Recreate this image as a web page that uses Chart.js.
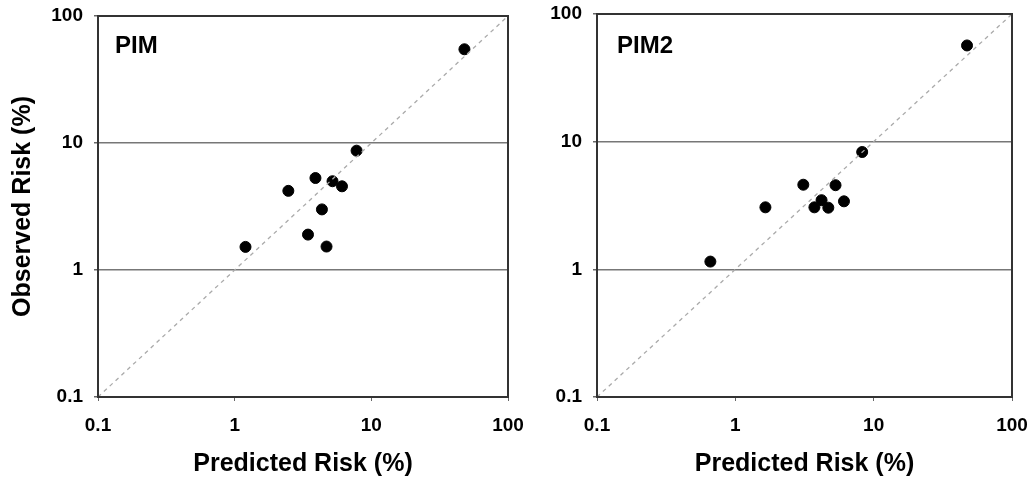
<!DOCTYPE html>
<html>
<head>
<meta charset="utf-8">
<script src="https://cdn.jsdelivr.net/npm/chart.js@4.4.1/dist/chart.umd.min.js"></script>
<style>
  body { margin: 0; background: #fff; }
  #wrap { position: relative; width: 1032px; height: 479px; }
  .box { position: absolute; top: 0; height: 479px; }
</style>
</head>
<body>
<div id="wrap">
  <div class="box" style="left:0; width:530px;"><canvas id="pim"></canvas></div>
  <div class="box" style="left:530px; width:502px;"><canvas id="pim2"></canvas></div>
</div>
<script>
// decade ticks for both axes
const tickValues = [0.1, 1, 10, 100];
const identityLine = [0.1, 100];

// PIM: predicted vs observed risk (%)
const pimPredicted = [48, 7.8, 3.9, 5.2, 6.1, 2.47, 4.35, 3.44, 4.7, 1.2];
const pimObserved  = [54.7, 8.7, 5.3, 5.0, 4.56, 4.2, 3.0, 1.9, 1.53, 1.52];

// PIM2
const pim2Predicted = [47.3, 8.26, 3.1, 5.3, 6.1, 4.2, 3.73, 4.7, 1.65, 0.66];
const pim2Observed  = [56.7, 8.3, 4.6, 4.56, 3.41, 3.48, 3.06, 3.04, 3.06, 1.15];

const FONT = "'Liberation Sans', Arial, sans-serif";

// frame round the plot area + panel name in the corner
const framePlugin = {
    id: 'frame',
    afterDraw(chart, args, opts) {
        const { ctx, chartArea: a } = chart;
        ctx.save();
        ctx.strokeStyle = '#333';
        ctx.lineWidth = 2;
        ctx.strokeRect(a.left, a.top, a.right - a.left, a.bottom - a.top);
        ctx.fillStyle = '#000';
        ctx.font = 'bold 24px ' + FONT;
        ctx.textBaseline = 'alphabetic';
        ctx.fillText(opts.label, a.left + opts.dx, 53);
        ctx.restore();
    }
};

function buildChart(id, xs, ys, cfg) {
    const points = xs.map((x, i) => ({ x: x, y: ys[i] }));
    const diag = identityLine.map(v => ({ x: v, y: v }));
    const setTicks = scale => { scale.ticks = tickValues.map(v => ({ value: v })); };

    return new Chart(document.getElementById(id), {
        type: 'scatter',
        data: {
            datasets: [{
                type: 'line',
                data: diag,
                borderColor: '#aaa',
                borderWidth: 1.3,
                borderDash: [4, 4],
                pointRadius: 0,
                fill: false
            }, {
                data: points,
                backgroundColor: '#000',
                borderColor: '#000',
                pointRadius: 5.5,
                pointHoverRadius: 5.5
            }]
        },
        options: {
            responsive: true,
            maintainAspectRatio: false,
            animation: false,
            layout: { padding: { top: cfg.top, right: cfg.right, left: 0, bottom: 0 } },
            plugins: {
                legend: { display: false },
                tooltip: { enabled: false },
                frame: { label: cfg.label, dx: cfg.dx }
            },
            scales: {
                x: {
                    type: 'logarithmic',
                    min: 0.1,
                    max: 100,
                    afterBuildTicks: setTicks,
                    afterFit: s => { s.height = 82; s.paddingLeft = 0; s.paddingRight = 0; },
                    border: { display: false },
                    grid: { drawOnChartArea: false, drawTicks: true, tickLength: 4, tickColor: '#666' },
                    ticks: {
                        color: '#000',
                        padding: 13,
                        maxRotation: 0,
                        font: { family: FONT, size: 19, weight: 'bold' },
                        callback: v => String(v)
                    },
                    title: {
                        display: true,
                        text: 'Predicted Risk (%)',
                        color: '#000',
                        padding: { top: 0, bottom: 0 },
                        font: { family: FONT, size: 25, weight: 'bold' }
                    }
                },
                y: {
                    type: 'logarithmic',
                    min: 0.1,
                    max: 100,
                    afterBuildTicks: setTicks,
                    afterFit: s => { s.width = cfg.yWidth; s.paddingTop = 0; s.paddingBottom = 0; },
                    border: { display: false },
                    grid: {
                        color: c => (c.tick && (c.tick.value === 1 || c.tick.value === 10)) ? '#777' : 'rgba(0,0,0,0)',
                        lineWidth: 1.5,
                        tickColor: '#666',
                        tickLength: 4
                    },
                    ticks: {
                        color: '#000',
                        padding: 11,
                        font: { family: FONT, size: 19, weight: 'bold' },
                        callback: v => String(v)
                    },
                    title: {
                        display: cfg.yTitle,
                        text: 'Observed Risk (%)',
                        color: '#000',
                        padding: { top: 8, bottom: 0 },
                        font: { family: FONT, size: 25, weight: 'bold' }
                    }
                }
            }
        },
        plugins: [framePlugin]
    });
}

buildChart('pim', pimPredicted, pimObserved, { top: 16, right: 22, yWidth: 98, yTitle: true, label: 'PIM', dx: 17 });
buildChart('pim2', pim2Predicted, pim2Observed, { top: 14, right: 20, yWidth: 67, yTitle: false, label: 'PIM2', dx: 20 });
</script>
</body>
</html>
